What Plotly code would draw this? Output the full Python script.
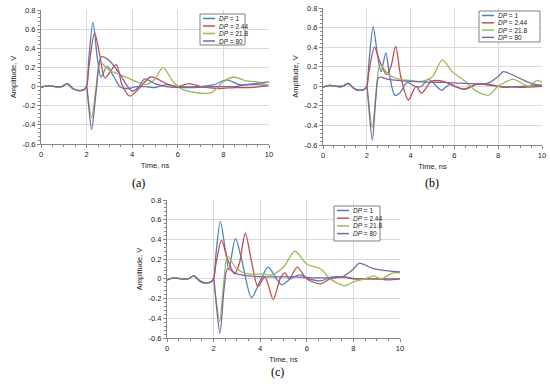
import plotly.graph_objects as go

W, H = 550, 385

# ---------------- data ----------------
SERIES = ["DP = 1", "DP = 2.44", "DP = 21.8", "DP = 80"]
LEGEND_HTML = ["<i>DP</i> = 1", "<i>DP</i> = 2.44", "<i>DP</i> = 21.8", "<i>DP</i> = 80"]
COLORS = ["#4F81BD", "#C0504D", "#9BBB59", "#8064A2"]
PANEL_LABELS = ["(a)", "(b)", "(c)"]

X_TICKS = [0, 2, 4, 6, 8, 10]
X_TICK_TEXT = ["0", "2", "4", "6", "8", "10"]
Y_TICKS = [-0.6, -0.4, -0.2, 0, 0.2, 0.4, 0.6, 0.8]
Y_TICK_TEXT = ["-0.6", "-0.4", "-0.2", "0", "0.2", "0.4", "0.6", "0.8"]

# common pre-pulse part (all series, all panels)
PRE_T = [0.0, 0.3, 0.6, 0.9, 1.15, 1.4, 1.6, 1.9, 2.0]
PRE_V = [-0.01, 0.01, 0.0, 0.0, 0.03, -0.02, -0.04, -0.03, 0.0]

# panel (a)
A1_T = [2.1, 2.28, 2.47, 2.63, 2.9, 3.2, 3.5, 3.8, 4.2, 4.6, 5.0, 5.5, 6.0, 7.0, 7.6, 8.15, 8.7, 9.3, 10]
A1_V = [0.3, 0.67, 0.3, 0.1, 0.21, 0.1, -0.01, -0.02, 0.0, 0.0, -0.01, 0.02, 0.0, 0.0, 0.02, 0.07, 0.02, 0.02, 0.01]
A2_T = [2.1, 2.35, 2.6, 2.8, 3.3, 3.55, 3.9, 4.3, 4.8, 5.1, 5.6, 6.0, 6.5, 7.0, 7.8, 8.5, 9.2, 10]
A2_V = [0.2, 0.56, 0.3, 0.09, 0.23, 0.02, -0.1, -0.02, 0.1, 0.08, 0.02, 0.0, 0.03, 0.0, -0.02, -0.01, -0.01, 0.01]
A3_T = [2.05, 2.22, 2.42, 2.6, 3.0, 3.5, 4.2, 4.6, 5.0, 5.35, 5.8, 6.2, 7.0, 7.5, 8.0, 8.45, 9.0, 9.5, 10]
A3_V = [-0.1, -0.33, 0.0, 0.25, 0.17, 0.12, 0.05, 0.02, 0.08, 0.2, 0.05, -0.03, -0.07, -0.06, 0.05, 0.1, 0.06, 0.05, 0.01]
A4_T = [2.05, 2.22, 2.42, 2.65, 3.0, 3.4, 3.8, 4.0, 4.3, 4.55, 5.0, 5.5, 6.5, 7.5, 8.5, 9.0, 10]
A4_V = [-0.1, -0.45, -0.05, 0.31, 0.27, 0.15, 0.0, -0.05, 0.0, 0.08, 0.03, 0.0, -0.01, 0.0, 0.0, 0.02, 0.05]

# panel (b)
B1_T = [2.1, 2.29, 2.5, 2.65, 2.87, 3.05, 3.28, 3.5, 3.85, 4.2, 4.5, 4.8, 5.1, 5.4, 5.8, 6.4, 7.0, 7.6, 8.2, 9.0, 10]
B1_V = [0.25, 0.61, 0.3, 0.15, 0.34, 0.1, -0.09, -0.07, 0.04, 0.0, 0.0, 0.07, 0.02, -0.04, 0.02, -0.03, 0.02, 0.02, -0.01, 0.0, 0.01]
B2_T = [2.1, 2.35, 2.6, 2.9, 3.1, 3.32, 3.55, 3.9, 4.25, 4.5, 4.95, 5.5, 6.0, 6.5, 7.0, 8.0, 9.0, 10]
B2_V = [0.15, 0.4, 0.25, 0.12, 0.2, 0.41, 0.1, -0.14, 0.0, -0.07, 0.05, 0.05, 0.0, -0.03, 0.02, 0.0, -0.01, 0.0]
B3_T = [2.05, 2.25, 2.45, 2.6, 3.0, 3.5, 4.0, 4.5, 5.0, 5.45, 5.9, 6.5, 7.0, 7.56, 8.0, 8.7, 9.4, 9.77, 10]
B3_V = [-0.1, -0.42, 0.0, 0.22, 0.12, 0.07, 0.06, 0.05, 0.1, 0.27, 0.15, 0.05, -0.05, -0.09, 0.0, 0.07, 0.0, 0.06, 0.04]
B4_T = [2.05, 2.25, 2.42, 2.55, 3.0, 4.0, 5.0, 5.5, 6.5, 7.5, 8.0, 8.24, 8.8, 9.5, 10]
B4_V = [-0.1, -0.55, -0.1, 0.09, 0.07, 0.05, 0.04, 0.04, 0.03, 0.03, 0.1, 0.15, 0.1, 0.03, 0.01]

# panel (c)
C1_T = [2.1, 2.29, 2.5, 2.65, 2.94, 3.2, 3.63, 4.0, 4.34, 4.7, 4.92, 5.3, 5.7, 6.1, 6.6, 7.1, 7.6, 8.2, 9.0, 9.5, 10]
C1_V = [0.25, 0.58, 0.3, 0.1, 0.41, 0.2, -0.19, -0.02, 0.12, 0.0, -0.06, 0.0, 0.04, 0.0, -0.02, 0.02, 0.02, 0.0, 0.0, -0.01, 0.0]
C2_T = [2.1, 2.34, 2.6, 2.9, 3.1, 3.36, 3.65, 3.9, 4.2, 4.56, 4.85, 5.06, 5.25, 5.59, 6.0, 6.6, 7.0, 7.5, 8.0, 9.0, 10]
C2_V = [0.15, 0.39, 0.2, 0.05, 0.15, 0.46, 0.15, -0.08, 0.02, -0.21, 0.0, 0.06, 0.0, 0.12, 0.0, -0.05, 0.0, 0.02, 0.0, 0.0, 0.0]
C3_T = [2.05, 2.26, 2.45, 2.6, 3.0, 3.5, 4.0, 4.5, 5.0, 5.49, 6.0, 6.6, 7.0, 7.64, 8.0, 8.5, 8.85, 9.2, 9.7, 10]
C3_V = [-0.1, -0.43, 0.0, 0.23, 0.1, 0.05, 0.05, 0.04, 0.12, 0.28, 0.15, 0.1, 0.0, -0.07, -0.03, 0.0, 0.03, 0.0, 0.06, 0.06]
C4_T = [2.05, 2.27, 2.45, 2.6, 3.0, 3.5, 4.5, 5.5, 6.5, 7.5, 8.0, 8.25, 8.8, 9.5, 10]
C4_V = [-0.1, -0.55, -0.1, 0.1, 0.05, 0.03, 0.02, 0.02, 0.01, 0.02, 0.1, 0.16, 0.11, 0.08, 0.07]

PANEL_DATA = [
    [(A1_T, A1_V), (A2_T, A2_V), (A3_T, A3_V), (A4_T, A4_V)],
    [(B1_T, B1_V), (B2_T, B2_V), (B3_T, B3_V), (B4_T, B4_V)],
    [(C1_T, C1_V), (C2_T, C2_V), (C3_T, C3_V), (C4_T, C4_V)],
]

# ---------------- layout geometry (pixels) ----------------
PLOT_BOX = [(41, 269, 10, 144), (323, 542, 8, 145), (167, 400, 200, 338)]
LEG_BOX = [(200, 245, 14, 45, 7.5), (479, 540, 11, 42, 7.3), (334, 380, 206, 241, 7.7)]
LABEL_POS = [(138, 183), (432, 183), (277, 372)]


def px(x):
    return x / W


def py(y):
    return 1 - y / H


fig = go.Figure()
shapes = []
annotations = []
FONT = "Liberation Sans, Arial, sans-serif"

for p, series in enumerate(PANEL_DATA):
    sfx = "" if p == 0 else str(p + 1)
    for s, (t, v) in enumerate(series):
        fig.add_trace(go.Scatter(
            x=PRE_T + t, y=PRE_V + v, mode="lines",
            line=dict(color=COLORS[s], width=1.3, shape="spline", smoothing=0.8),
            name=SERIES[s], showlegend=False,
            xaxis="x" + sfx, yaxis="y" + sfx,
        ))
    l, r, tp, b = PLOT_BOX[p]
    axcommon = dict(showline=True, linecolor="#868686", linewidth=1,
                    gridcolor="#d9d9d9", gridwidth=1, zeroline=False,
                    ticks="outside", ticklen=3, tickcolor="#868686",
                    automargin=False,
                    tickfont=dict(family=FONT, size=7.5, color="#222222"))
    fig.update_layout(**{
        "xaxis" + sfx: dict(axcommon, domain=[px(l), px(r)], range=[0, 10],
                            anchor="y" + sfx, tickvals=X_TICKS, ticktext=X_TICK_TEXT,
                            minor=dict(dtick=0.5, ticks="outside", ticklen=2,
                                       tickcolor="#868686", showgrid=False),
                            title=dict(text="Time, ns", standoff=4,
                                       font=dict(family=FONT, size=7.5, color="#222222"))),
        "yaxis" + sfx: dict(axcommon, domain=[py(b), py(tp)], range=[-0.6, 0.8],
                            anchor="x" + sfx, tickvals=Y_TICKS, ticktext=Y_TICK_TEXT,
                            minor=dict(dtick=0.04, ticks="outside", ticklen=2,
                                       tickcolor="#868686", showgrid=False),
                            title=dict(text="Amplitude, V", standoff=4,
                                       font=dict(family=FONT, size=7.5, color="#222222"))),
    })
    ll, lr, lt, lb, dy = LEG_BOX[p]
    shapes.append(dict(type="rect", xref="paper", yref="paper",
                       x0=px(ll), x1=px(lr), y0=py(lb), y1=py(lt),
                       line=dict(color="#808080", width=1), fillcolor="white", layer="above"))
    for s in range(4):
        yy = lt + 4.5 + s * dy
        shapes.append(dict(type="line", xref="paper", yref="paper",
                           x0=px(ll + 3), x1=px(ll + 15), y0=py(yy), y1=py(yy),
                           line=dict(color=COLORS[s], width=1.5), layer="above"))
        annotations.append(dict(text=LEGEND_HTML[s], xref="paper", yref="paper",
                                x=px(ll + 17), y=py(yy), xanchor="left", yanchor="middle",
                                showarrow=False, font=dict(family=FONT, size=6.5, color="#222222")))
    lx, ly = LABEL_POS[p]
    annotations.append(dict(text=PANEL_LABELS[p], xref="paper", yref="paper",
                            x=px(lx), y=py(ly), xanchor="center", yanchor="middle",
                            showarrow=False,
                            font=dict(family="Liberation Serif, Times New Roman, serif",
                                      size=12, color="#000000")))

fig.update_layout(width=W, height=H, margin=dict(l=0, r=0, t=0, b=0, autoexpand=False),
                  paper_bgcolor="white", plot_bgcolor="white",
                  shapes=shapes, annotations=annotations, showlegend=False)

fig.write_html("out.html", config={"displayModeBar": False},
               post_script="document.body.style.margin='0';document.body.style.overflow='hidden';")
